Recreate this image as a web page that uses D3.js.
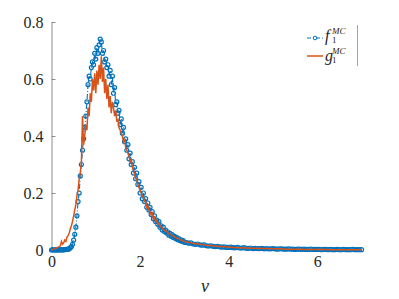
<!DOCTYPE html>
<html><head><meta charset="utf-8">
<script src="https://cdn.jsdelivr.net/npm/d3@7/dist/d3.min.js"></script>
</head><body style="margin:0">
<svg id="c" width="399" height="299"></svg>
<script>
const v = [0,0.025,0.05,0.075,0.1,0.125,0.15,0.175,0.2,0.225,0.25,0.275,0.3,0.325,0.35,0.375,0.4,0.425,0.45,0.475,
0.5,0.525,0.55,0.575,0.6,0.625,0.65,0.675,0.7,0.725,0.75,0.775,0.8,0.825,0.85,0.875,0.9,0.925,0.95,0.975,
1,1.025,1.05,1.075,1.1,1.125,1.15,1.175,1.2,1.225,1.25,1.275,1.3,1.325,1.35,1.375,1.4,1.425,1.45,1.475,
1.5,1.525,1.55,1.575,1.6,1.625,1.65,1.675,1.7,1.725,1.75,1.775,1.8,1.825,1.85,1.875,1.9,1.925,1.95,1.975,
2,2.025,2.05,2.075,2.1,2.125,2.15,2.175,2.2,2.225,2.25,2.275,2.3,2.325,2.35,2.375,2.4,2.425,2.45,2.475,
2.5,2.525,2.55,2.575,2.6,2.625,2.65,2.675,2.7,2.725,2.75,2.775,2.8,2.825,2.85,2.875,2.9,2.925,2.95,2.975,
3,3.05,3.1,3.15,3.2,3.25,3.3,3.35,3.4,3.45,3.5,3.55,3.6,3.65,3.7,3.75,3.8,3.85,3.9,3.95,
4,4.05,4.1,4.15,4.2,4.25,4.3,4.35,4.4,4.45,4.5,4.55,4.6,4.65,4.7,4.75,4.8,4.85,4.9,4.95,
5,5.05,5.1,5.15,5.2,5.25,5.3,5.35,5.4,5.45,5.5,5.55,5.6,5.65,5.7,5.75,5.8,5.85,5.9,5.95,
6,6.05,6.1,6.15,6.2,6.25,6.3,6.35,6.4,6.45,6.5,6.55,6.6,6.65,6.7,6.75,6.8,6.85,6.9,6.95,7];

const f1MC = [0,0.001,0,0,0.001,0,0,0.001,0,0.001,0,0.001,0.001,0.002,0.002,0.003,0.004,0.008,0.012,0.02,
0.035,0.055,0.08,0.12,0.17,0.2,0.26,0.3,0.35,0.39,0.43,0.47,0.52,0.58,0.61,0.6,0.64,0.66,0.65,0.69,
0.67,0.71,0.69,0.72,0.74,0.73,0.69,0.7,0.66,0.67,0.64,0.65,0.61,0.63,0.58,0.61,0.55,0.57,0.51,0.52,
0.48,0.49,0.44,0.46,0.41,0.43,0.38,0.39,0.35,0.37,0.32,0.34,0.3,0.31,0.27,0.29,0.25,0.27,0.23,0.24,
0.2,0.22,0.18,0.2,0.17,0.18,0.15,0.165,0.14,0.15,0.125,0.135,0.11,0.12,0.1,0.105,0.09,0.1,0.08,0.085,
0.07,0.08,0.065,0.07,0.06,0.064,0.052,0.058,0.048,0.054,0.044,0.048,0.04,0.044,0.036,0.04,0.033,0.036,0.03,0.033,
0.027,0.026,0.024,0.025,0.021,0.02,0.021,0.018,0.017,0.018,0.015,0.014,0.015,0.013,0.012,0.013,0.011,0.01,0.011,0.009,
0.009,0.01,0.008,0.008,0.009,0.007,0.007,0.008,0.006,0.006,0.007,0.005,0.006,0.005,0.005,0.006,0.004,0.005,0.004,0.004,
0.005,0.004,0.003,0.004,0.004,0.003,0.003,0.004,0.003,0.003,0.002,0.003,0.003,0.002,0.003,0.002,0.002,0.003,0.002,0.002,
0.002,0.002,0.001,0.002,0.002,0.001,0.002,0.001,0.001,0.002,0.001,0.001,0.002,0.001,0.001,0.001,0.002,0.001,0.001,0.001,0.001];

const g1MC = [0,0.002,0.003,0.004,0.006,0.008,0.01,0.012,0.015,0.03,0.02,0.025,0.035,0.03,0.045,0.05,0.06,0.075,0.085,0.1,
0.12,0.14,0.16,0.19,0.21,0.25,0.27,0.31,0.47,0.37,0.4,0.44,0.42,0.5,0.47,0.55,0.52,0.6,0.56,0.62,
0.55,0.63,0.58,0.65,0.6,0.68,0.59,0.64,0.55,0.6,0.53,0.58,0.5,0.54,0.48,0.52,0.5,0.47,0.49,0.45,
0.46,0.43,0.42,0.41,0.4,0.38,0.39,0.36,0.35,0.34,0.33,0.31,0.32,0.29,0.28,0.27,0.25,0.25,0.23,0.22,
0.21,0.2,0.19,0.185,0.17,0.17,0.15,0.155,0.14,0.135,0.125,0.13,0.11,0.115,0.1,0.105,0.09,0.095,0.085,0.08,
0.078,0.072,0.07,0.065,0.066,0.06,0.058,0.055,0.053,0.05,0.05,0.046,0.045,0.042,0.04,0.04,0.036,0.035,0.034,0.031,
0.03,0.028,0.027,0.025,0.024,0.022,0.022,0.02,0.019,0.018,0.017,0.016,0.016,0.014,0.014,0.013,0.012,0.012,0.011,0.011,
0.01,0.01,0.009,0.009,0.008,0.008,0.008,0.007,0.007,0.007,0.006,0.006,0.006,0.006,0.005,0.005,0.005,0.005,0.005,0.004,
0.004,0.004,0.004,0.004,0.004,0.003,0.003,0.003,0.003,0.003,0.003,0.003,0.003,0.002,0.002,0.002,0.002,0.002,0.002,0.002,
0.002,0.002,0.002,0.002,0.002,0.002,0.001,0.001,0.001,0.001,0.001,0.001,0.001,0.001,0.001,0.001,0.001,0.001,0.001,0.001,0.001];

const xTicks = [0,2,4,6];
const yTicks = [0,0.2,0.4,0.6,0.8];
const xLabel = "v";

const FONT = "'Liberation Serif'";
const svg = d3.select("#c");
const x = d3.scaleLinear().domain([0,7]).range([51.5,361.5]);
const y = d3.scaleLinear().domain([0,0.8]).range([250,22]);
const textCol = "#262626";

const ya = svg.append("g").attr("transform","translate(51.5,0)")
  .call(d3.axisLeft(y).tickValues(yTicks).tickSizeInner(-4).tickSizeOuter(0).tickPadding(8)
    .tickFormat(d => d===0 ? "0" : d3.format(".1f")(d)));
ya.attr("font-family", null).attr("font-size", null);
ya.select(".domain").attr("stroke","#8c8c8c");
ya.selectAll(".tick line").attr("stroke","#8c8c8c");
ya.selectAll(".tick text").style("font-family", FONT).attr("font-size",16).attr("fill",textCol);

const xa = svg.append("g").attr("transform","translate(0,250)")
  .call(d3.axisBottom(x).tickValues(xTicks).tickSize(0).tickPadding(6).tickFormat(d3.format("d")));
xa.attr("font-family", null).attr("font-size", null);
xa.select(".domain").remove();
xa.selectAll(".tick text").style("font-family", FONT).attr("font-size",16).attr("fill",textCol);

svg.append("text").style("font-family", FONT).attr("font-size",18).attr("font-style","italic")
  .attr("x",205).attr("y",292).attr("text-anchor","middle").attr("fill",textCol).text(xLabel);

const blue = "#0072BD", orange = "#D95319";
const fData = v.map((d,i)=>[d,f1MC[i]]);
const gData = v.map((d,i)=>[d,g1MC[i]]);
const line = d3.line().x(d=>x(d[0])).y(d=>y(d[1]));

svg.append("path").datum(fData).attr("d",line).attr("fill","none")
  .attr("stroke",blue).attr("stroke-width",1.1).attr("stroke-dasharray","5,2,1,2");
svg.append("g").selectAll("circle").data(fData).join("circle")
  .attr("cx",d=>x(d[0])).attr("cy",d=>y(d[1])).attr("r",2)
  .attr("fill","none").attr("stroke",blue).attr("stroke-width",1.2);
svg.append("path").datum(gData).attr("d",line).attr("fill","none")
  .attr("stroke",orange).attr("stroke-width",1.5);

const lg = svg.append("g");
lg.append("line").attr("x1",357.5).attr("x2",357.5).attr("y1",25).attr("y2",66).attr("stroke","#8c8c8c").attr("stroke-width",0.8);
lg.append("line").attr("x1",307).attr("x2",323).attr("y1",38).attr("y2",38).attr("stroke",blue).attr("stroke-width",1.1).attr("stroke-dasharray","4,2,1,2");
lg.append("circle").attr("cx",315).attr("cy",38).attr("r",1.8).attr("fill","none").attr("stroke",blue);
lg.append("line").attr("x1",307).attr("x2",323).attr("y1",56).attr("y2",56).attr("stroke",orange).attr("stroke-width",1.5);
const names = [["f",41],["g",61]];
names.forEach(([n,yy])=>{
  const t = lg.append("text").style("font-family", FONT).attr("font-style","italic").attr("fill",textCol);
  t.append("tspan").attr("x",325).attr("y",yy).attr("font-size",16).text(n);
  t.append("tspan").attr("x",332).attr("y",yy+2).attr("font-size",9).attr("font-style","normal").text("1");
  t.append("tspan").attr("x",332).attr("y",yy-7).attr("font-size",9).text("MC");
});
</script>
</body></html>
